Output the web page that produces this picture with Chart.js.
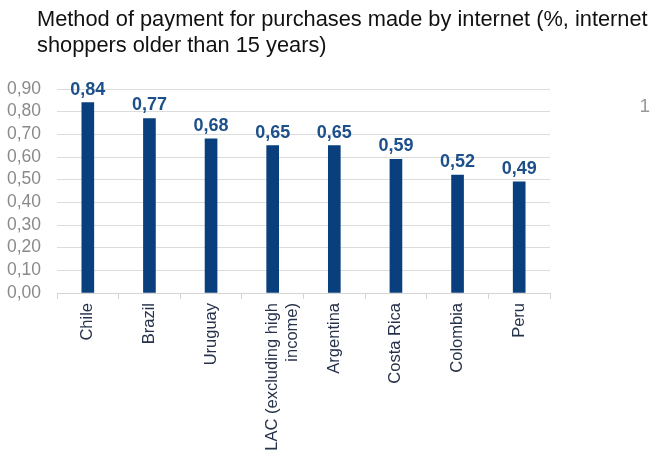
<!DOCTYPE html>
<html>
<head>
<meta charset="utf-8">
<script src="https://cdn.jsdelivr.net/npm/chart.js@4/dist/chart.umd.min.js"></script>
<style>
  html, body { margin: 0; padding: 0; background: #fff; }
  #wrap { width: 652px; height: 456px; }
</style>
</head>
<body>
<div id="wrap"><canvas id="payChart" width="652" height="456"></canvas></div>
<script>
// countries and share of internet shoppers paying online
const countries = ['Chile', 'Brazil', 'Uruguay', ['LAC (excluding high', 'income)'], 'Argentina', 'Costa Rica', 'Colombia', 'Peru'];
const shares = [0.84, 0.77, 0.68, 0.65, 0.65, 0.59, 0.52, 0.49];
const yTicks = [0, 0.1, 0.2, 0.3, 0.4, 0.5, 0.6, 0.7, 0.8, 0.9];
const titleLines = ['Method of payment for purchases made by internet (%, internet', 'shoppers older than 15 years)'];

const FONT = '"Liberation Sans", Arial, sans-serif';
const BAR = '#0a3f7d';
const fmt = v => v.toFixed(2).replace('.', ',');

// title, value labels above each bar, and the stray "1" at the right
const decorations = {
  id: 'decorations',
  afterDatasetsDraw(chart) {
    const { ctx } = chart;
    const meta = chart.getDatasetMeta(0);
    ctx.save();

    ctx.font = '21.8px ' + FONT;
    ctx.fillStyle = '#111';
    ctx.textAlign = 'left';
    ctx.textBaseline = 'alphabetic';
    titleLines.forEach((line, i) => ctx.fillText(line, 37, 26 + i * 26));

    ctx.font = 'bold 18px ' + FONT;
    ctx.fillStyle = '#1d4f8a';
    ctx.textAlign = 'center';
    meta.data.forEach((bar, i) => {
      ctx.fillText(fmt(shares[i]), bar.x, bar.y - 8);
    });

    ctx.font = '19px ' + FONT;
    ctx.fillStyle = '#9a9a9a';
    ctx.textAlign = 'right';
    ctx.fillText('1', 650, 112);
    ctx.restore();
  }
};

new Chart(document.getElementById('payChart'), {
  type: 'bar',
  data: {
    labels: countries,
    datasets: [{ data: shares, backgroundColor: BAR, barThickness: 12 }]
  },
  options: {
    responsive: false,
    animation: false,
    layout: { padding: { left: 0, right: 102, top: 89, bottom: 0 } },
    plugins: {
      legend: { display: false },
      tooltip: { enabled: false },
      title: { display: false }
    },
    scales: {
      x: {
        afterFit(axis) { axis.height = 163; },
        grid: { display: true, drawOnChartArea: false, drawTicks: true, tickLength: 6, color: '#d4d4d4', offset: true },
        border: { display: true, color: '#d4d4d4' },
        ticks: {
          minRotation: 90, maxRotation: 90, autoSkip: false, padding: 4,
          color: '#26324a',
          font: { family: FONT, size: 16.5 }
        }
      },
      y: {
        min: 0, max: 0.9,
        afterBuildTicks(axis) { axis.ticks = yTicks.map(v => ({ value: v })); },
        afterFit(axis) { axis.width = 57; },
        grid: { color: '#dcdcdc', drawTicks: false },
        border: { display: false },
        ticks: {
          autoSkip: false,
          padding: 16,
          color: '#8a8a8a',
          font: { family: FONT, size: 17.5 },
          callback: v => fmt(v)
        }
      }
    }
  },
  plugins: [decorations]
});
</script>
</body>
</html>
